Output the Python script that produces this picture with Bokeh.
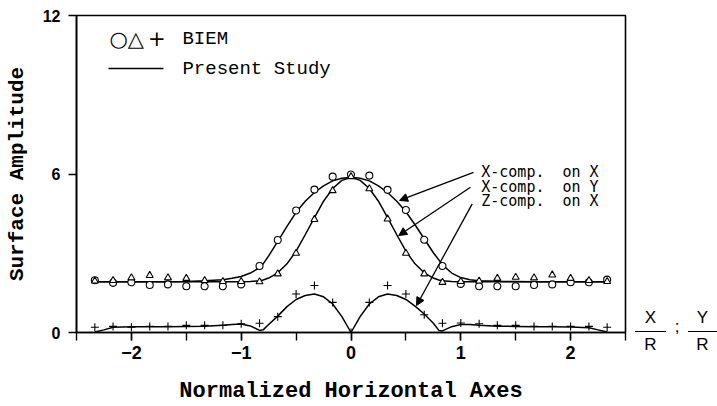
from bokeh.plotting import figure
from bokeh.models import Arrow, NormalHead, Label, FixedTicker, Range1d, Div
from bokeh.layouts import row
from bokeh.embed import file_html
from bokeh.resources import INLINE

# ---- data ----
x_pts = [-2.333, -2.167, -2.0, -1.833, -1.667, -1.5, -1.333, -1.167, -1.0, -0.833,
         -0.667, -0.5, -0.333, -0.167, 0.0, 0.167, 0.333, 0.5, 0.667, 0.833,
         1.0, 1.167, 1.333, 1.5, 1.667, 1.833, 2.0, 2.167, 2.333]

biem_x_on_x = [1.98, 1.88, 1.90, 1.80, 1.82, 1.75, 1.75, 1.75, 1.82, 2.52,
               3.50, 4.62, 5.41, 5.90, 5.98, 5.94, 5.40, 4.64, 3.51, 2.52,
               1.84, 1.75, 1.75, 1.75, 1.80, 1.82, 1.90, 1.90, 2.00]

biem_x_on_y = [1.95, 1.97, 2.07, 2.16, 2.07, 2.05, 1.97, 1.93, 1.93, 1.92,
               2.22, 3.00, 4.28, 5.37, 5.90, 5.44, 4.30, 3.00, 2.22, 1.90,
               1.93, 1.95, 2.05, 2.09, 2.07, 2.18, 2.05, 1.97, 1.93]

biem_z_on_x = [0.20, 0.23, 0.20, 0.23, 0.23, 0.27, 0.27, 0.27, 0.33, 0.35,
               0.60, 1.46, 1.78, 1.14, 0.00, 1.14, 1.78, 1.46, 0.67, 0.35,
               0.36, 0.33, 0.27, 0.27, 0.23, 0.23, 0.23, 0.23, 0.20]

line_x = [-2.333, -2.25, -2.167, -2.0, -1.833, -1.667, -1.5, -1.333, -1.167, -1.083,
          -1.0, -0.917, -0.833, -0.8, -0.75, -0.667, -0.583, -0.5, -0.417, -0.333,
          -0.25, -0.167, -0.083, 0.0, 0.083, 0.167, 0.25, 0.333, 0.417, 0.5,
          0.583, 0.667, 0.75, 0.8, 0.833, 0.917, 1.0, 1.083, 1.167, 1.333,
          1.5, 1.667, 1.833, 2.0, 2.167, 2.25, 2.333]

study_x_on_x = [1.92, 1.92, 1.92, 1.92, 1.92, 1.92, 1.93, 1.96, 2.00, 2.05,
                2.12, 2.25, 2.45, 2.60, 2.90, 3.45, 4.02, 4.55, 4.97, 5.30,
                5.55, 5.74, 5.84, 5.88, 5.84, 5.74, 5.55, 5.30, 4.97, 4.57,
                4.08, 3.55, 3.02, 2.75, 2.56, 2.25, 2.08, 2.00, 1.96, 1.94,
                1.93, 1.92, 1.92, 1.92, 1.92, 1.92, 1.92]

study_x_on_y = [1.92, 1.92, 1.92, 1.92, 1.92, 1.92, 1.92, 1.92, 1.92, 1.92,
                1.92, 1.93, 1.96, 1.99, 2.06, 2.26, 2.60, 3.08, 3.70, 4.35,
                4.97, 5.45, 5.76, 5.88, 5.76, 5.45, 4.97, 4.35, 3.70, 3.08,
                2.60, 2.26, 2.06, 1.99, 1.96, 1.93, 1.92, 1.92, 1.92, 1.92,
                1.92, 1.92, 1.92, 1.92, 1.92, 1.92, 1.92]

study_z_on_x = [0.02, 0.10, 0.20, 0.22, 0.22, 0.22, 0.23, 0.24, 0.27, 0.30,
                0.32, 0.25, 0.08, 0.10, 0.30, 0.62, 0.98, 1.25, 1.40, 1.46,
                1.35, 1.08, 0.60, 0.00, 0.60, 1.08, 1.35, 1.46, 1.40, 1.25,
                1.00, 0.70, 0.35, 0.08, 0.06, 0.22, 0.30, 0.30, 0.27, 0.24,
                0.23, 0.22, 0.22, 0.21, 0.18, 0.10, 0.02]

x_major_ticks = [-2, -1, 0, 1, 2]
x_minor_ticks = [-2.5, -2, -1.5, -1, -0.5, 0, 0.5, 1, 1.5, 2, 2.5]
x_tick_labels = {-2: "\u22122", -1: "\u22121", 0: "0", 1: "1", 2: "2"}
y_ticks = [0, 6, 12]

curve_names = ["X-comp.\u00a0\u00a0on\u00a0X", "X-comp.\u00a0\u00a0on\u00a0Y", "Z-comp.\u00a0\u00a0on\u00a0X"]
axis_unit_parts = ["X", "R", ";", "Y", "R"]

# ---- figure ----
p = figure(width=635, height=406, output_backend="svg", toolbar_location=None,
           x_range=Range1d(-2.5, 2.5), y_range=Range1d(0, 12),
           min_border_left=76, min_border_right=10, min_border_top=15, min_border_bottom=74)
p.background_fill_color = "white"
p.border_fill_color = "white"
p.xgrid.visible = False
p.ygrid.visible = False
p.outline_line_color = "black"
p.outline_line_width = 1.6

# axes
xa = p.xaxis[0]
xa.ticker = FixedTicker(ticks=x_major_ticks, minor_ticks=x_minor_ticks)
xa.major_label_overrides = x_tick_labels
xa.major_tick_out = 8
xa.major_tick_in = 0
xa.minor_tick_out = 8
xa.minor_tick_in = 0
xa.axis_line_width = 1.6
xa.major_tick_line_width = 1.4
xa.minor_tick_line_width = 1.4
xa.major_label_standoff = 5
xa.major_label_text_font = "Liberation Sans"
xa.major_label_text_font_style = "bold"
xa.major_label_text_font_size = "18px"
xa.major_label_text_color = "black"
xa.axis_label = "Normalized Horizontal Axes"
xa.axis_label_text_font = "Liberation Mono"
xa.axis_label_text_font_style = "bold"
xa.axis_label_text_font_size = "22px"
xa.axis_label_text_color = "black"
xa.axis_label_standoff = 17

ya = p.yaxis[0]
ya.ticker = FixedTicker(ticks=y_ticks, minor_ticks=[])
ya.major_tick_out = 8
ya.major_tick_in = 0
ya.axis_line_width = 1.6
ya.major_tick_line_width = 1.4
ya.major_label_standoff = 8
ya.major_label_text_font = "Liberation Sans"
ya.major_label_text_font_style = "bold"
ya.major_label_text_font_size = "16px"
ya.major_label_text_color = "black"
ya.axis_label = "Surface Amplitude"
ya.axis_label_text_font = "Liberation Mono"
ya.axis_label_text_font_style = "bold"
ya.axis_label_text_font_size = "21px"
ya.axis_label_text_color = "black"
ya.axis_label_standoff = 11

# curves (Present Study)
for ys in (study_x_on_x, study_x_on_y, study_z_on_x):
    p.line(line_x, ys, line_color="black", line_width=1.5)

# BIEM points
p.scatter(x_pts, biem_x_on_x, marker="circle", size=7, fill_color="white",
          line_color="black", line_width=1.1)
p.scatter(x_pts, biem_x_on_y, marker="triangle", size=7, fill_color="white",
          line_color="black", line_width=1.1)
p.scatter(x_pts, biem_z_on_x, marker="cross", size=8, line_color="black", line_width=1.1)

# legend (hand-drawn as in the reference)
mono = "Liberation Mono"
p.add_layout(Label(x=-2.2, y=11.1, text="\u25cb\u25b3\u2009+", text_font="DejaVu Sans",
                   text_font_size="21px", text_baseline="middle", text_color="black"))
p.add_layout(Label(x=-1.535, y=11.1, text="BIEM", text_font=mono, text_font_size="19px",
                   text_baseline="middle", text_color="black"))
p.add_layout(Arrow(x_start=-2.209, y_start=9.99, x_end=-1.708, y_end=9.99, end=None,
                   line_color="black", line_width=1.5))
p.add_layout(Label(x=-1.535, y=9.99, text="Present Study", text_font=mono, text_font_size="19px",
                   text_baseline="middle", text_color="black"))

# curve annotations with arrows
label_y = [6.07, 5.50, 4.97]
arrow_start = [(1.116, 6.06), (1.088, 5.50), (1.104, 4.87)]
arrow_end = [(0.442, 5.00), (0.435, 3.67), (0.597, 1.02)]
for name, ly in zip(curve_names, label_y):
    p.add_layout(Label(x=1.186, y=ly, text=name, text_font="DejaVu Sans Mono",
                       text_font_size="15px", text_baseline="middle", text_color="black"))
for (sx, sy), (ex, ey) in zip(arrow_start, arrow_end):
    p.add_layout(Arrow(x_start=sx, y_start=sy, x_end=ex, y_end=ey,
                       end=NormalHead(size=8, fill_color="black", line_color="black"),
                       line_color="black", line_width=1.3))

# X/R ; Y/R  to the right of the horizontal axis (outside the plot frame)
fx, fr, semi, fy, fr2 = axis_unit_parts
txt = "position:absolute;height:20px;line-height:20px;text-align:center;"
bar = "position:absolute;height:0;border-top:1.5px solid black;"
html = (
    '<div style="position:relative;width:82px;height:406px;'
    "font-family:'Liberation Sans',Arial,sans-serif;font-size:17px;color:black;\">"
    f'<div style="{txt}left:0px;top:308px;width:31px;">{fx}</div>'
    f'<div style="{bar}left:0px;top:331px;width:31px;"></div>'
    f'<div style="{txt}left:0px;top:335px;width:31px;">{fr}</div>'
    f'<div style="{txt}left:36px;top:317px;width:12px;">{semi}</div>'
    f'<div style="{txt}left:53px;top:308px;width:29px;">{fy}</div>'
    f'<div style="{bar}left:53px;top:331px;width:29px;"></div>'
    f'<div style="{txt}left:53px;top:335px;width:29px;">{fr2}</div>'
    '</div>'
)
unit_div = Div(text=html, width=82, height=406, margin=(0, 0, 0, 0))

layout = row(p, unit_div, spacing=0)
open("out.html", "w").write(file_html(layout, INLINE))
